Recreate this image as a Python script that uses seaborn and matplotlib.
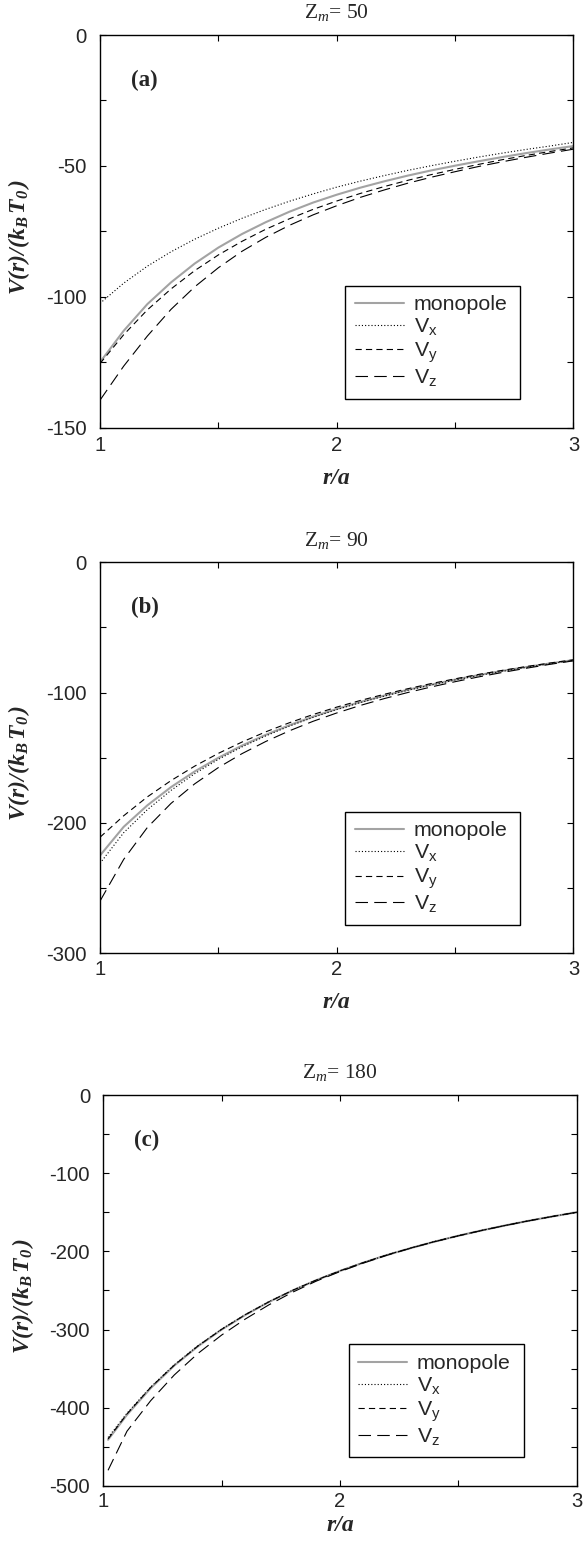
import numpy as np
import pandas as pd
import matplotlib
matplotlib.use("Agg")
import matplotlib.pyplot as plt
import seaborn as sns

# ---------------- data ----------------
r_ab = [1.0, 1.1, 1.2, 1.3, 1.4, 1.5, 1.6, 1.7, 1.8, 1.9, 2.0,
        2.1, 2.2, 2.3, 2.4, 2.5, 2.6, 2.7, 2.8, 2.9, 3.0]
r_c = [1.02, 1.1, 1.2, 1.3, 1.4, 1.5, 1.6, 1.7, 1.8, 1.9, 2.0,
       2.1, 2.2, 2.3, 2.4, 2.5, 2.6, 2.7, 2.8, 2.9, 3.0]

# panel (a)  Z_m = 50
a_mono = [-125, -113, -102.8, -94.5, -87.3, -81.2, -76, -71.5, -67.5, -64, -61,
          -58.3, -55.9, -53.7, -51.7, -49.9, -48.2, -46.6, -45.1, -43.7, -42.4]
a_vx = [-102.5, -94.8, -88.3, -82.8, -78, -73.8, -70, -66.6, -63.5, -60.7, -58.1,
        -55.8, -53.7, -51.7, -49.9, -48.2, -46.6, -45.1, -43.7, -42.4, -41]
a_vy = [-125.5, -114.5, -105, -97, -90, -84, -78.8, -74.2, -70.2, -66.6, -63.4,
        -60.5, -57.9, -55.5, -53.3, -51.3, -49.4, -47.6, -46, -44.5, -43.1]
a_vz = [-139.5, -126.5, -115, -104.8, -96.2, -88.9, -82.6, -77.3, -72.7, -68.7, -65.2,
        -62, -59.2, -56.6, -54.3, -52.2, -50.2, -48.4, -46.7, -45.1, -43.6]

# panel (b)  Z_m = 90
b_mono = [-225, -203, -186.5, -172.5, -160.5, -150, -140.6, -132.4, -125, -118.4, -112.5,
          -107.2, -102.3, -97.8, -93.8, -90, -86.5, -83.3, -80.4, -77.6, -75]
b_vx = [-231, -207.5, -189.8, -175, -162.2, -151.2, -141.6, -133.2, -125.7, -119, -113,
        -107.6, -102.7, -98.2, -94.1, -90.3, -86.8, -83.6, -80.6, -77.8, -75.2]
b_vy = [-211, -194.5, -180, -167.5, -156.4, -146.6, -137.9, -130.1, -123.1, -116.8, -111.1,
        -106, -101.3, -97, -93, -89.4, -86, -82.9, -80, -77.3, -74.8]
b_vz = [-260, -228, -203.5, -185, -170, -157.5, -146.8, -137.5, -129.3, -122, -115.6,
        -109.8, -104.6, -99.9, -95.6, -91.6, -87.9, -84.5, -81.3, -78.3, -75.6]

# panel (c)  Z_m = 180
c_mono = [-441, -409, -375, -346, -321.4, -300, -281.3, -264.7, -250, -236.8, -225,
          -214.3, -204.5, -195.7, -187.5, -180, -173.1, -166.7, -160.7, -155.2, -150]
c_vx = [-438, -407, -373.5, -345, -320.6, -299.4, -280.8, -264.3, -249.7, -236.6, -224.8,
        -214.2, -204.4, -195.6, -187.4, -180, -173.1, -166.7, -160.7, -155.2, -150]
c_vy = [-440, -408, -374, -345.5, -321, -299.7, -281, -264.5, -249.8, -236.7, -224.9,
        -214.2, -204.4, -195.6, -187.4, -180, -173.1, -166.7, -160.7, -155.2, -150]
c_vz = [-480, -430, -391, -358, -330.5, -307, -286.5, -268.3, -252.2, -238, -225.8,
        -214.8, -204.8, -195.8, -187.6, -180.1, -173.2, -166.8, -160.8, -155.2, -150]

series_labels = ["monopole", r"$\mathregular{V_x}$", r"$\mathregular{V_y}$", r"$\mathregular{V_z}$"]
panel_titles = ["50", "90", "180"]
panel_tags = ["(a)", "(b)", "(c)"]
y_limits = [(-150, 0), (-300, 0), (-500, 0)]
y_major = [[-150, -100, -50, 0], [-300, -200, -100, 0], [-500, -400, -300, -200, -100, 0]]
y_minor = [[-125, -75, -25], [-250, -150, -50], [-450, -350, -250, -150, -50]]
x_major = [1, 2, 3]
x_minor = [1.5, 2.5]

# ---------------- style ----------------
sns.set_theme(style="ticks")
plt.rcParams["font.family"] = ["Liberation Sans", "DejaVu Sans"]
plt.rcParams["mathtext.fontset"] = "custom"
plt.rcParams["mathtext.rm"] = "Liberation Serif"
plt.rcParams["mathtext.it"] = "Liberation Serif:italic"
plt.rcParams["mathtext.bf"] = "Liberation Serif:bold"
plt.rcParams["lines.scale_dashes"] = False

fig = plt.figure(figsize=(5.84, 15.44), dpi=100)
rects = [
    [0.1712, 0.7230, 0.8108, 0.2543],
    [0.1712, 0.3826, 0.8108, 0.2532],
    [0.1769, 0.0376, 0.8106, 0.2532],
]
xlab_y = [-0.129, -0.125, -0.100]
xtick_pad = [6.2, 5.0, 4.3]

grey = "#a3a3a3"
styles = [
    dict(color=grey, lw=1.5, dashes=None),
    dict(color="black", lw=0.8, dashes=(0.8, 1.5)),
    dict(color="black", lw=0.8, dashes=(4.5, 3.0)),
    dict(color="black", lw=0.8, dashes=(9.0, 4.5)),
]

panels = [
    (r_ab, [a_mono, a_vx, a_vy, a_vz]),
    (r_ab, [b_mono, b_vx, b_vy, b_vz]),
    (r_c, [c_mono, c_vx, c_vy, c_vz]),
]

serif = "Liberation Serif"

for i, (rr, ys) in enumerate(panels):
    ax = fig.add_axes(rects[i])
    handles = []
    for k, (yv, st) in enumerate(zip(ys, styles)):
        df = pd.DataFrame({"r": rr, "V": yv})
        n0 = len(ax.lines)
        sns.lineplot(data=df, x="r", y="V", ax=ax, color=st["color"], lw=st["lw"],
                     legend=False, sort=True)
        ln = ax.lines[n0]
        if st["dashes"] is not None:
            ln.set_dashes(st["dashes"])
        handles.append(ln)

    ax.set_xlim(1, 3)
    ax.set_ylim(*y_limits[i])
    ax.set_xticks(x_major)
    ax.set_xticks(x_minor, minor=True)
    ax.set_yticks(y_major[i])
    ax.set_yticks(y_minor[i], minor=True)
    ax.set_xticklabels([str(v) for v in x_major])
    ax.set_yticklabels([str(v) for v in y_major[i]])
    ax.tick_params(which="both", direction="in", top=True, right=True,
                   length=4, width=0.8, color="black")
    ax.tick_params(axis="x", which="major", labelsize=14.6, pad=xtick_pad[i])
    ax.tick_params(axis="y", which="major", labelsize=14.6, pad=9.5)
    for sp in ax.spines.values():
        sp.set_color("black")
        sp.set_linewidth(1.0)
        sp.set_visible(True)

    ax.set_xlabel("r/a", fontfamily=serif, fontstyle="italic", fontweight="bold",
                  fontsize=17)
    ax.xaxis.set_label_coords(0.5, xlab_y[i])
    ax.xaxis.label.set_va("center")
    ax.set_ylabel(r"$\mathregular{V(r)/(k_B\,T_0\,)}$", fontfamily=serif,
                  fontstyle="italic", fontweight="bold", fontsize=17)
    ax.yaxis.set_label_coords(-0.17, 0.486)
    ax.yaxis.label.set_va("center")

    ax.text(0.5, 1.057, r"$\mathrm{Z}_{m}$" + "= " + panel_titles[i],
            transform=ax.transAxes, ha="center", va="center",
            fontfamily=serif, fontsize=15.5)
    ax.text(0.065, 0.884, panel_tags[i], transform=ax.transAxes, ha="left",
            va="center", fontfamily=serif, fontweight="bold", fontsize=16.5)

    leg = ax.legend(handles, series_labels, loc="upper left",
                    bbox_to_anchor=(0.518, 0.362, 0.370, 0.0), mode="expand",
                    frameon=True, fancybox=False, framealpha=1, edgecolor="black",
                    fontsize=15.4, handlelength=2.3, handletextpad=0.45,
                    labelspacing=0.12, borderpad=0.45, borderaxespad=0.0)
    leg.get_frame().set_linewidth(1.0)

fig.savefig("out.png", dpi=100)
